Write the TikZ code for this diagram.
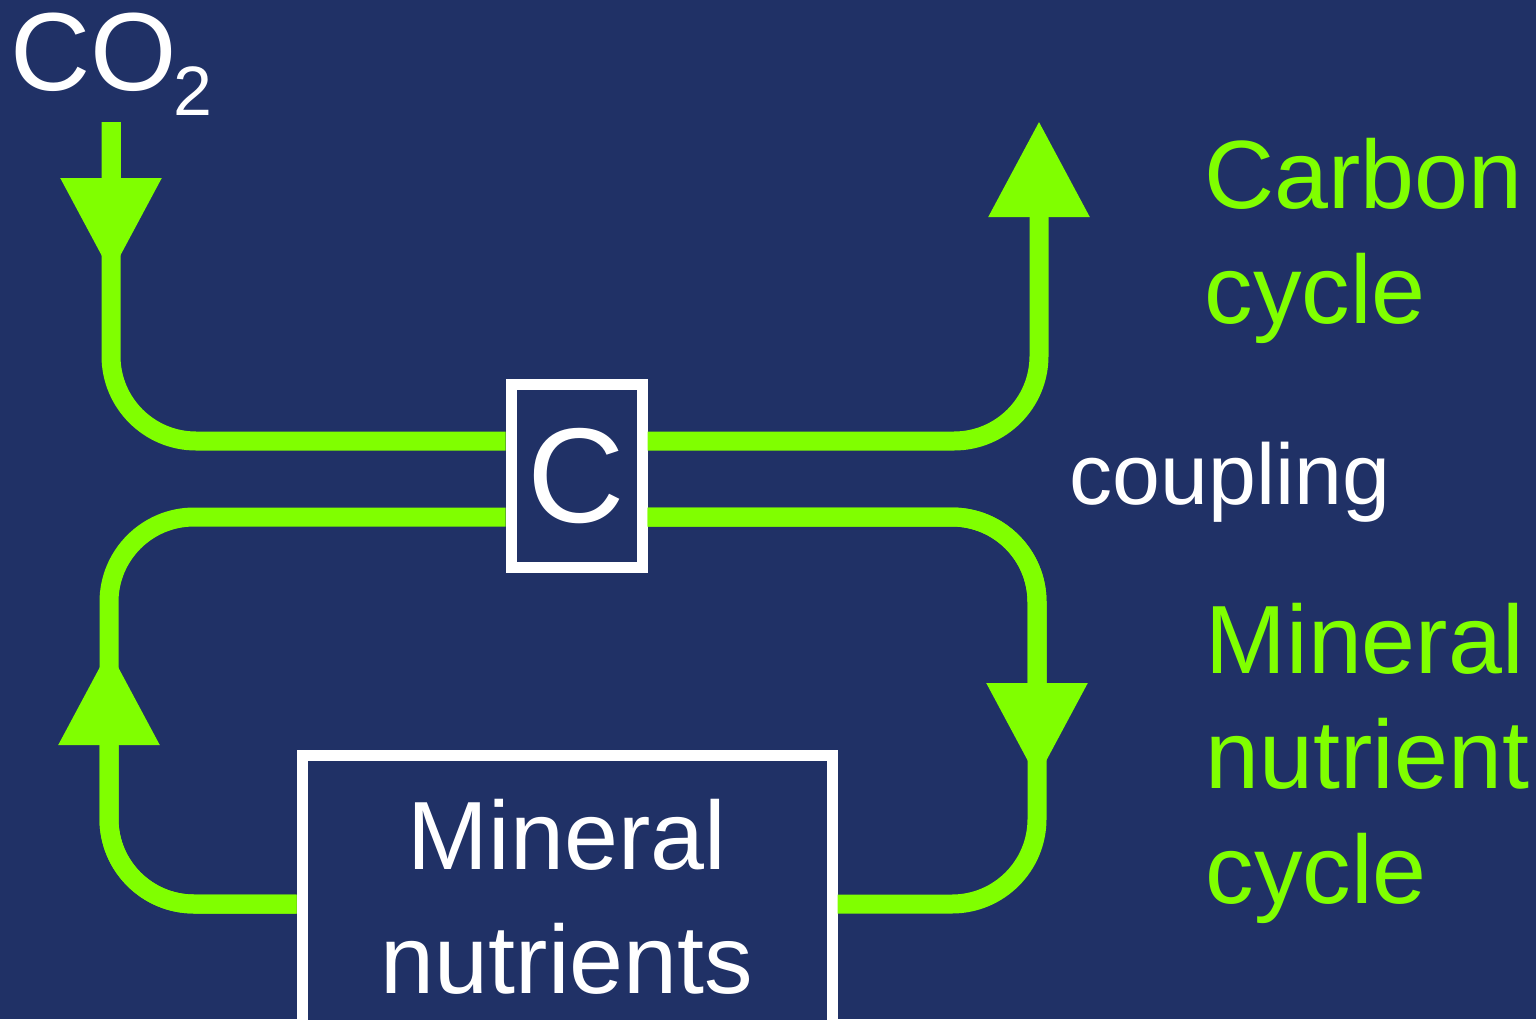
\documentclass[tikz,border=0pt]{standalone}
\usepackage{fontspec}
\setmainfont{Liberation Sans}
\usetikzlibrary{arrows.meta,positioning,calc}

\definecolor{navyBg}{RGB}{32,49,102}
\definecolor{limeGreen}{RGB}{128,255,0}

\begin{document}
\begin{tikzpicture}[
	flowLine/.style={draw=limeGreen, line width=0.19cm, rounded corners=0.85cm},
	flowTip/.style={-{Triangle[width=0.96cm, length=0.96cm]}},
	whiteBox/.style={
			draw=white, fill=navyBg, line width=0.11cm,
			inner sep=0pt, text=white, align=center
		},
	greenLabel/.style={
			text=limeGreen, align=left, inner sep=0pt, anchor=base west,
			font=\fontsize{27.6}{32.7}\selectfont
		},
	whiteLabel/.style={text=white, inner sep=0pt, anchor=base west}
	]

	% background and frame
	\fill[navyBg] (0,0) rectangle (15.36,-10.19);
	\useasboundingbox (0,0) rectangle (15.36,-10.19);
	\clip (0,0) rectangle (15.36,-10.19);

	% the two boxes
	\node[whiteBox, minimum width=1.31cm, minimum height=1.835cm,
		font=\fontsize{38.4}{46}\selectfont] (C1) at (5.765,-4.76) {C};
	\node[whiteBox, minimum width=5.30cm, minimum height=2.83cm,
		font=\fontsize{27.6}{35.3}\selectfont] (M1) at (5.67,-8.965) {Mineral\\nutrients};

	% points on the flows
	\coordinate (A1) at (1.11,-1.22);
	\coordinate (A2) at (1.11,-2.74);
	\coordinate (A3) at (1.09,-6.49);
	\coordinate (A4) at (10.37,-7.79);
	\coordinate (A5) at (10.39,-1.21);

	% carbon flow
	\draw[flowLine] (A1) |- ([yshift=0.35cm]C1.west);
	\draw[flowLine, flowTip] (A1) -- (A2);
	\draw[flowLine, flowTip] ([yshift=0.35cm]C1.east) -| (A5);

	% mineral nutrient loop
	\draw[flowLine] ([yshift=-0.41cm]C1.west) -| (1.09,-7) |- ([yshift=-0.075cm]M1.west);
	\draw[flowLine, flowTip] ([yshift=-0.075cm]M1.west) -| (A3);
	\draw[flowLine] ([yshift=-0.41cm]C1.east) -| (10.37,-7) |- ([yshift=-0.075cm]M1.east);
	\draw[flowLine, flowTip] ([yshift=-0.41cm]C1.east) -| (A4);

	% labels
	\node[whiteLabel, font=\fontsize{31.6}{38}\selectfont] (T1) at (0.10,-0.90)
	{CO\kern-0.04cm\raisebox{-0.25cm}{\fontsize{19.9}{24}\selectfont 2}};
	\node[greenLabel] (T2) at (12.04,-3.23) {Carbon\\cycle};
	\node[whiteLabel, font=\fontsize{24.5}{29}\selectfont] (T3) at (10.69,-5.04) {coupling};
	\node[greenLabel] (T4) at (12.05,-9.03) {Mineral\\nutrient\\cycle};
\end{tikzpicture}
\end{document}
